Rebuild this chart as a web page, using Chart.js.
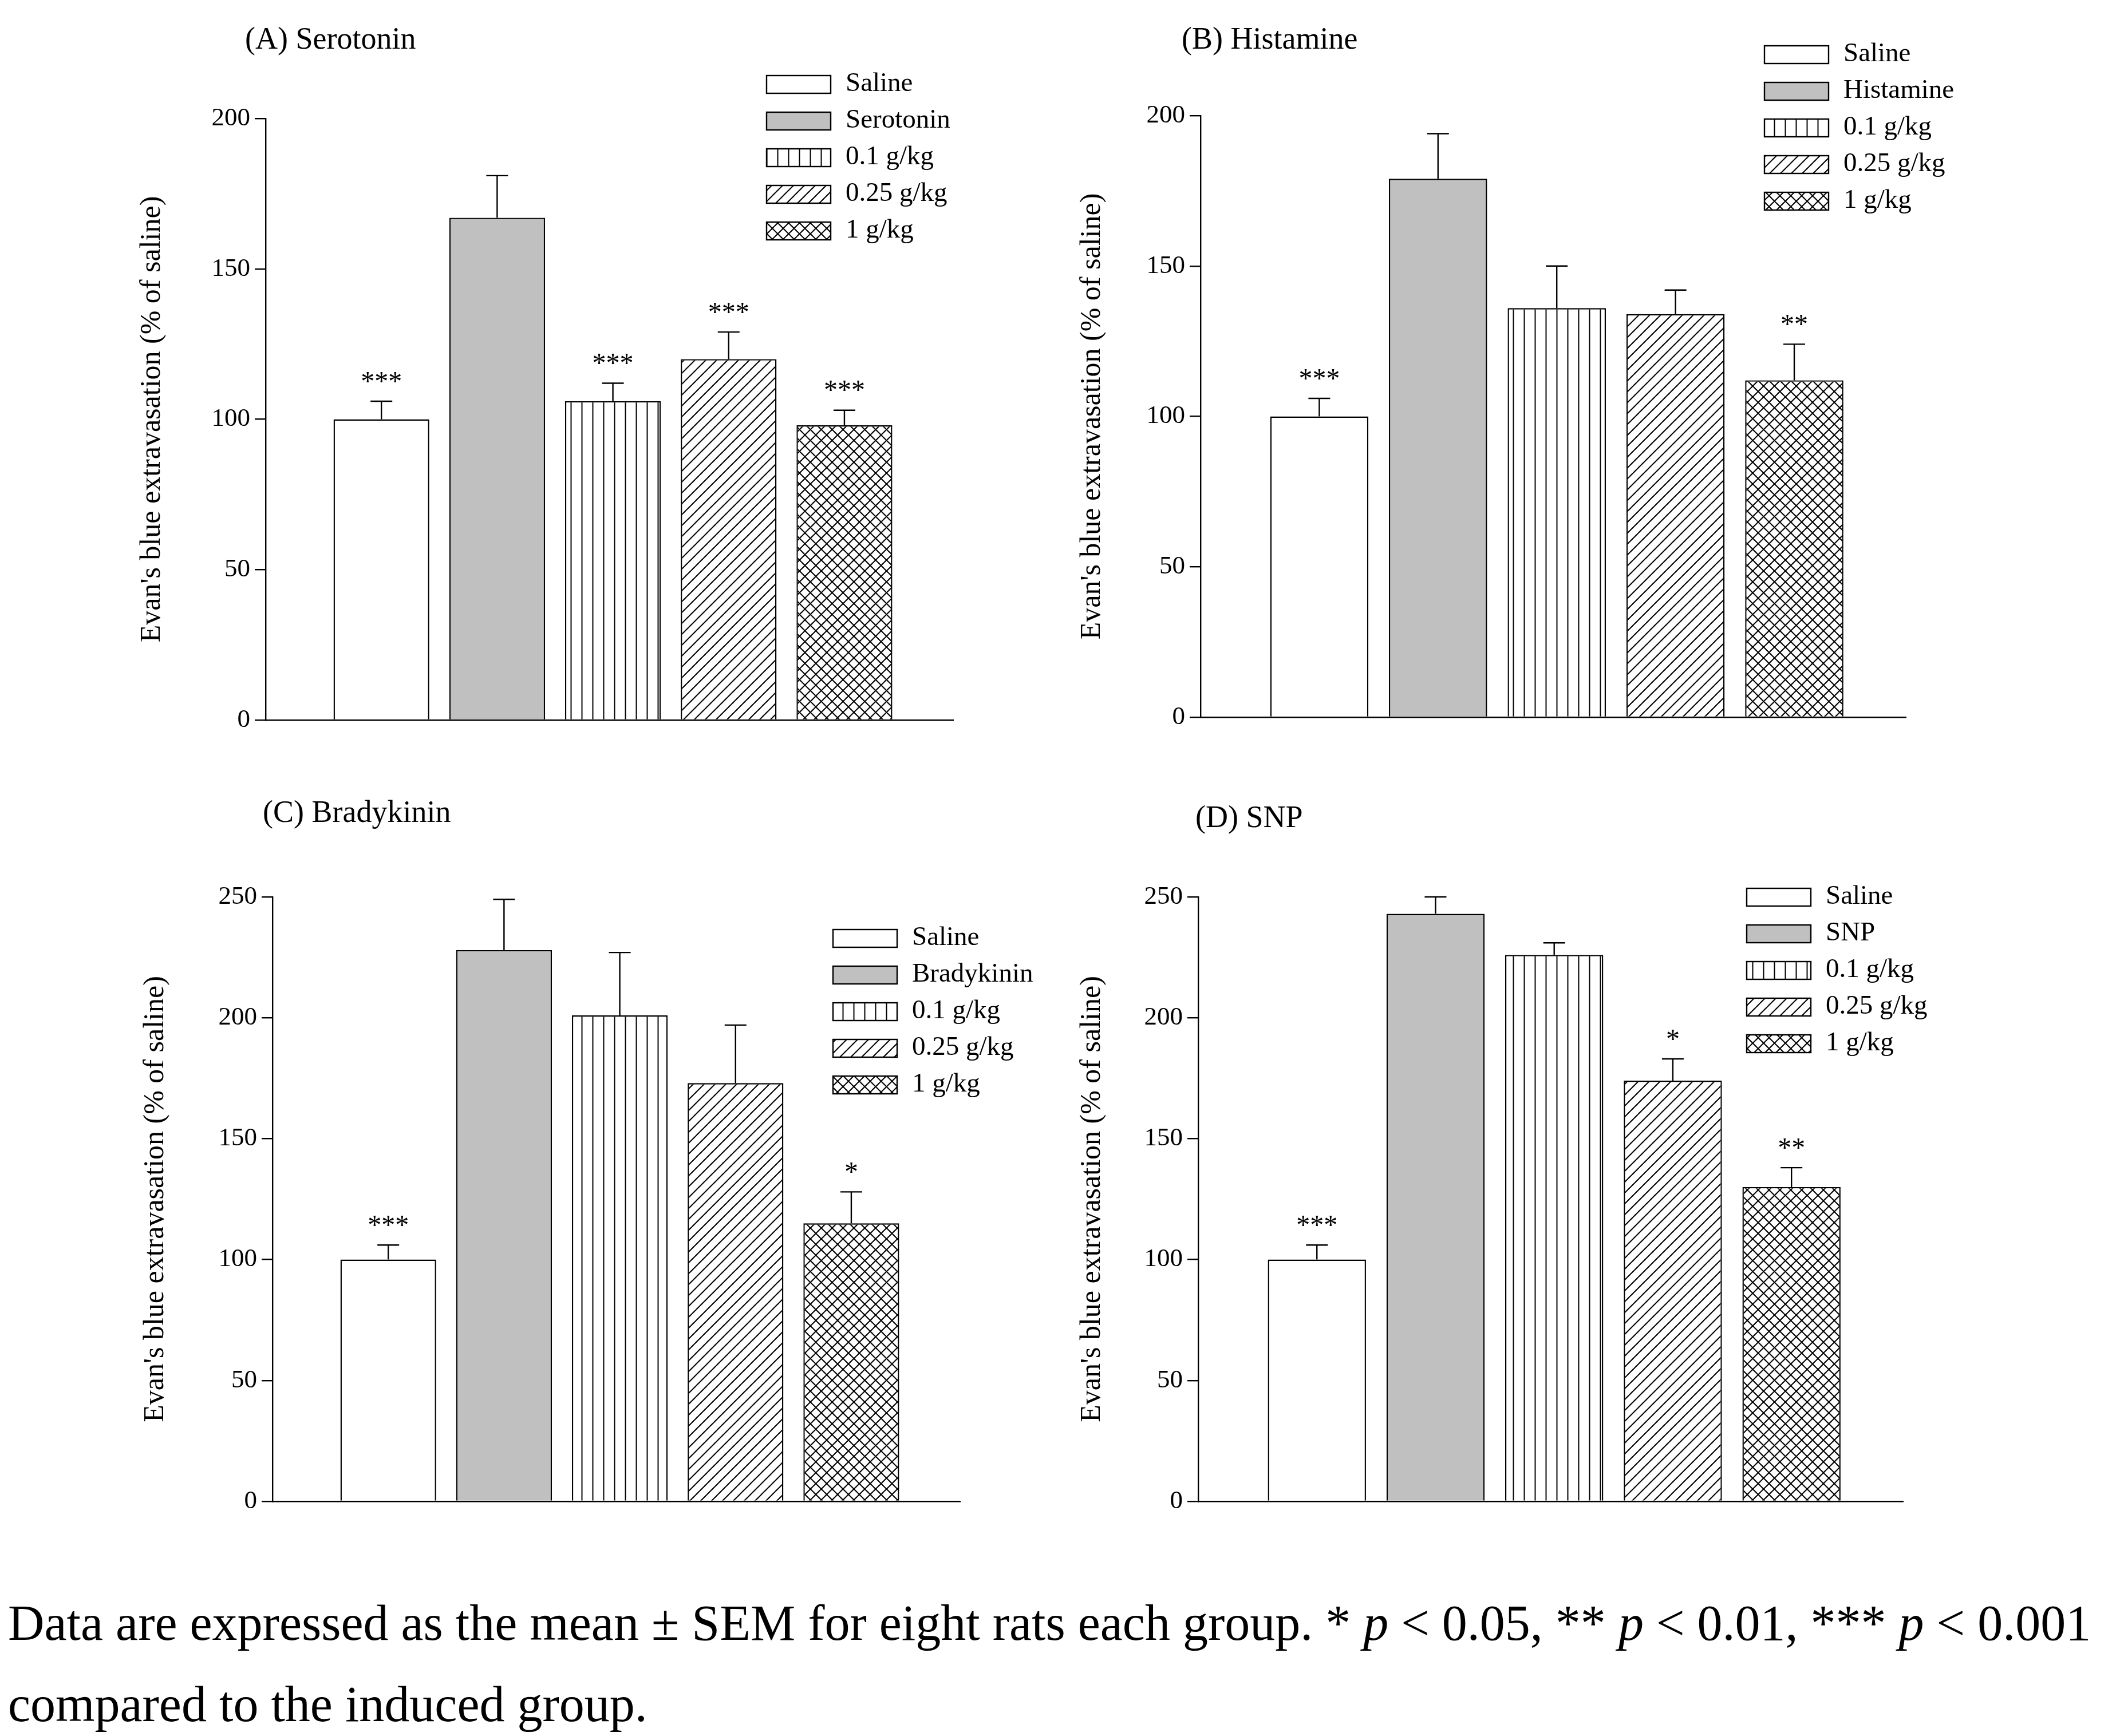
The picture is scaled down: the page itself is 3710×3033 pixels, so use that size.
<!DOCTYPE html>
<html><head><meta charset="utf-8">
<script src="https://cdn.jsdelivr.net/npm/chart.js@4"></script>
<style>
body{margin:0;background:#fff;width:3710px;height:3033px;position:relative;overflow:hidden}
canvas{position:absolute}
#cap{position:absolute;left:14px;top:2765px;font-family:"Liberation Serif",serif;font-size:88px;line-height:142px;color:#000;white-space:nowrap}
</style></head><body>
<div id="wA" style="position:absolute;left:0;top:0;width:1855px;height:1300px"><canvas id="cA"></canvas></div>
<div id="wB" style="position:absolute;left:1855px;top:0;width:1855px;height:1300px"><canvas id="cB"></canvas></div>
<div id="wC" style="position:absolute;left:0;top:1300px;width:1855px;height:1450px"><canvas id="cC"></canvas></div>
<div id="wD" style="position:absolute;left:1855px;top:1300px;width:1855px;height:1450px"><canvas id="cD"></canvas></div>
<div id="cap">Data are expressed as the mean ± SEM for eight rats each group. * <i>p</i> &lt; 0.05, ** <i>p</i> &lt; 0.01, *** <i>p</i> &lt; 0.001<br>compared to the induced group.</div>
<script>
// values
const doses = ['0.1 g/kg', '0.25 g/kg', '1 g/kg'];
const serotoninMeans = [100, 167, 106, 120, 98];
const serotoninErr = [6, 14, 6, 9, 5];
const serotoninStars = ['***', '', '***', '***', '***'];
const histamineMeans = [100, 179, 136, 134, 112];
const histamineErr = [6, 15, 14, 8, 12];
const histamineStars = ['***', '', '', '', '**'];
const bradykininMeans = [100, 228, 201, 173, 115];
const bradykininErr = [6, 21, 26, 24, 13];
const bradykininStars = ['***', '', '', '', '*'];
const snpMeans = [100, 243, 226, 174, 130];
const snpErr = [6, 7, 5, 9, 8];
const snpStars = ['***', '', '', '*', '**'];

const LW = 2.4;
const FONT = '"Liberation Serif", serif';

function makePattern(kind) {
    const s = 19;
    const c = document.createElement('canvas');
    c.width = s; c.height = s;
    const g = c.getContext('2d');
    g.fillStyle = '#fff'; g.fillRect(0, 0, s, s);
    g.strokeStyle = '#000'; g.lineWidth = 2;
    g.beginPath();
    if (kind === 'v') { g.moveTo(s / 2, 0); g.lineTo(s / 2, s); }
    if (kind === 'd' || kind === 'x') {
        g.moveTo(-2, s + 2); g.lineTo(s + 2, -2);
        g.moveTo(-2, 2); g.lineTo(2, -2);
        g.moveTo(s - 2, s + 2); g.lineTo(s + 2, s - 2);
    }
    if (kind === 'x') {
        g.moveTo(-2, -2); g.lineTo(s + 2, s + 2);
        g.moveTo(s - 2, -2); g.lineTo(s + 2, 2);
        g.moveTo(-2, s - 2); g.lineTo(2, s + 2);
    }
    g.stroke();
    return g.createPattern(c, 'repeat');
}
const fills = ['#fff', '#c0c0c0', makePattern('v'), makePattern('d'), makePattern('x')];

function panel(id, cfg) {
    const labels = ['Saline', cfg.name].concat(doses);
    const overlay = {
        id: 'overlay',
        afterDatasetsDraw(chart) {
            const ctx = chart.ctx;
            const y = chart.scales.y;
            const meta = chart.getDatasetMeta(0);
            ctx.save();
            ctx.strokeStyle = '#000'; ctx.lineWidth = LW;
            meta.data.forEach((el, i) => {
                const top = y.getPixelForValue(cfg.means[i] + cfg.err[i]);
                ctx.beginPath();
                ctx.moveTo(el.x, el.y); ctx.lineTo(el.x, top);
                ctx.moveTo(el.x - 19, top); ctx.lineTo(el.x + 19, top);
                ctx.stroke();
                if (cfg.stars[i]) {
                    ctx.fillStyle = '#000';
                    ctx.font = '48px ' + FONT;
                    ctx.textAlign = 'center'; ctx.textBaseline = 'bottom';
                    ctx.fillText(cfg.stars[i], el.x, top - 8);
                }
            });
            // title
            ctx.fillStyle = '#000';
            ctx.font = '54px ' + FONT;
            ctx.textAlign = 'left'; ctx.textBaseline = 'middle';
            ctx.fillText(cfg.title, cfg.tx, cfg.ty);
            // legend
            ctx.font = '47px ' + FONT;
            labels.forEach((l, i) => {
                const ly = cfg.ly + i * 64;
                ctx.fillStyle = fills[i];
                ctx.fillRect(cfg.lx, ly - 15, 112, 31);
                ctx.strokeRect(cfg.lx, ly - 15, 112, 31);
                ctx.fillStyle = '#000';
                ctx.fillText(l, cfg.lx + 138, ly);
            });
            ctx.restore();
        }
    };
    new Chart(document.getElementById(id), {
        type: 'bar',
        data: {
            datasets: [{
                data: cfg.means.map((v, i) => ({ x: i + 1, y: v })),
                backgroundColor: fills,
                borderColor: '#000',
                borderWidth: LW,
                borderSkipped: 'bottom',
                barPercentage: 0.88,
                categoryPercentage: 1
            }]
        },
        options: {
            responsive: true,
            maintainAspectRatio: false,
            animation: false,
            layout: { padding: cfg.pad },
            plugins: { legend: { display: false }, tooltip: { enabled: false } },
            scales: {
                x: {
                    type: 'linear', min: 0, max: 5.94, offset: false,
                    grid: { display: false, drawTicks: false },
                    border: { color: '#000', width: LW },
                    ticks: { display: false },
                    afterFit: s => { s.height = 0; }
                },
                y: {
                    min: 0, max: cfg.max,
                    ticks: { stepSize: 50, color: '#000', font: { family: FONT, size: 45 }, padding: 8 },
                    grid: { display: true, drawOnChartArea: false, drawTicks: true, tickLength: 19, lineWidth: LW, tickWidth: LW, tickColor: '#000', color: '#000' },
                    border: { color: '#000', width: LW },
                    title: { display: true, text: "Evan's blue extravasation (% of saline)", color: '#000', font: { family: FONT, size: 50 }, padding: 0 },
                    afterFit: s => { s.width = cfg.yw; }
                }
            }
        },
        plugins: [overlay]
    });
}

panel('cA', { name: 'Serotonin', title: '(A) Serotonin', means: serotoninMeans, err: serotoninErr, stars: serotoninStars, max: 200,
    pad: { left: 236, top: 207, right: 190, bottom: 42 }, yw: 228, tx: 428, ty: 71, lx: 1339, ly: 147 });
panel('cB', { name: 'Histamine', title: '(B) Histamine', means: histamineMeans, err: histamineErr, stars: histamineStars, max: 200,
    pad: { left: 23, top: 202, right: 381, bottom: 47 }, yw: 219, tx: 209, ty: 71, lx: 1227, ly: 95 });
panel('cC', { name: 'Bradykinin', title: '(C) Bradykinin', means: bradykininMeans, err: bradykininErr, stars: bradykininStars, max: 250,
    pad: { left: 242, top: 267, right: 178, bottom: 127 }, yw: 234, tx: 459, ty: 122, lx: 1455, ly: 339 });
panel('cD', { name: 'SNP', title: '(D) SNP', means: snpMeans, err: snpErr, stars: snpStars, max: 250,
    pad: { left: 23, top: 267, right: 386, bottom: 127 }, yw: 215, tx: 233, ty: 131, lx: 1196, ly: 267 });
</script>
</body></html>
